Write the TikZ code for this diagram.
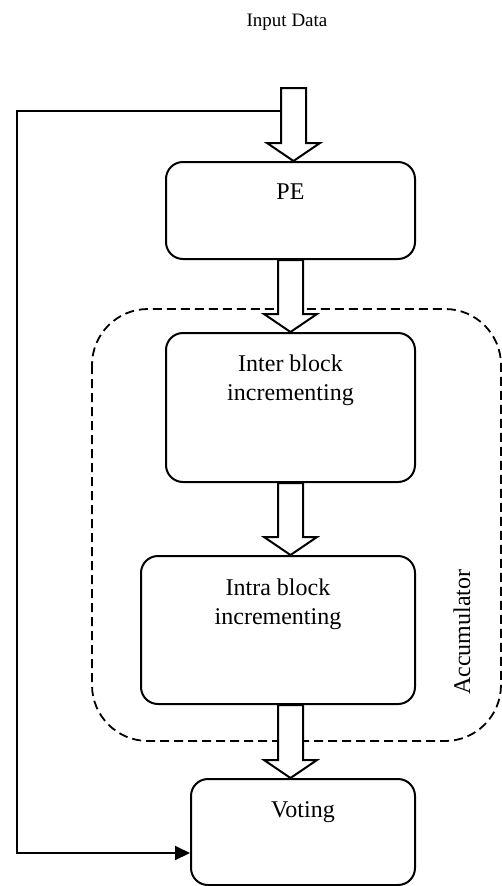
\documentclass[tikz,border=0pt]{standalone}
\usepackage{fontspec}
\setmainfont{Liberation Serif}
\usetikzlibrary{arrows.meta,calc,positioning}

\tikzset{
  block/.style={draw, line width=2pt, rounded corners=17pt, inner sep=0pt},
  blocktext/.style={inner sep=0pt, align=center, font=\fontsize{24}{29}\selectfont},
  hollow/.style={draw, fill=white, line width=2pt, line join=miter},
  groupbox/.style={draw, line width=1.8pt, dash pattern=on 9pt off 5pt, rounded corners=56pt},
  feed/.style={draw, line width=2pt, -{Triangle[length=15pt,width=14pt]}},
}

% hollow block arrow: #1 = top of shaft, #2 = tip
\newcommand\hollowdown[2]{%
  \path[hollow] let \p1=(#1), \p2=(#2) in
    (\x2-12.5pt,\y1) -- (\x2-12.5pt,\y2+18pt) -- (\x2-26.5pt,\y2+18pt) --
    (\x2,\y2) -- (\x2+26.5pt,\y2+18pt) -- (\x2+12.5pt,\y2+18pt) --
    (\x2+12.5pt,\y1) -- cycle;}

\begin{document}
\begin{tikzpicture}[x=1pt, y=-1pt]
  \useasboundingbox (0,0) rectangle (502,886);

  % accumulator group
  \draw[groupbox] (92,309) rectangle (501,741);
  \node[blocktext, rotate=90] (acclabel) at (462,632) {Accumulator};

  % processing blocks
  \node[block, minimum width=249pt, minimum height=97pt] (pe) at (290.5,210.5) {};
  \node[block, minimum width=249pt, minimum height=149pt] (inter) at (290.5,407.5) {};
  \node[block, minimum width=274pt, minimum height=148pt] (intra) at (278,630) {};
  \node[block, minimum width=224pt, minimum height=106pt] (voting) at (303,832) {};

  \node[blocktext, anchor=north, below=23pt of pe.north] (petext) {PE};
  \node[blocktext, anchor=north, below=23pt of inter.north] (intertext) {Inter block\\incrementing};
  \node[blocktext, anchor=north, below=24pt of intra.north] (intratext) {Intra block\\incrementing};
  \node[blocktext, anchor=north, below=23pt of voting.north] (votingtext) {Voting};

  % input
  \node[inner sep=0pt, font=\fontsize{19}{22}\selectfont] (input) at (287,22) {Input Data};
  \coordinate (in) at (293.5,88);
  \coordinate (fb) at (281,111);

  % data flow
  \hollowdown{in}{in |- pe.north}
  \hollowdown{pe.south}{pe.south |- inter.north}
  \hollowdown{inter.south}{inter.south |- intra.north}
  \hollowdown{inter.south |- intra.south}{inter.south |- voting.north}

  % feedback path
  \coordinate (fbcorner1) at (17,111);
  \coordinate (fbcorner2) at (17,853);
  \draw[feed] (fb) -- (fbcorner1) -- (fbcorner2) -- (fbcorner2 -| voting.west);
\end{tikzpicture}
\end{document}
